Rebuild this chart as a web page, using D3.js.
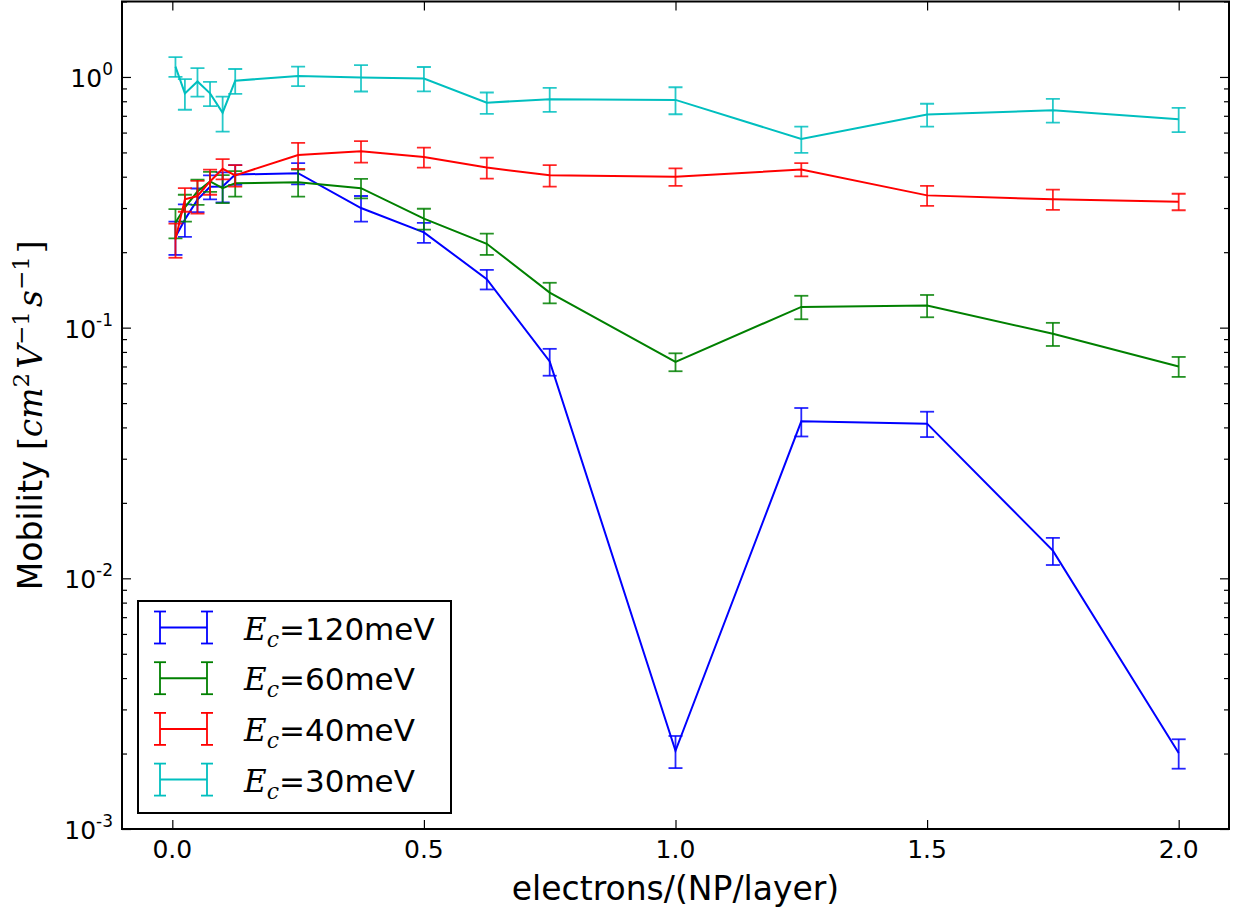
<!DOCTYPE html>
<html>
<head>
<meta charset="utf-8">
<script src="https://cdn.jsdelivr.net/npm/d3@7"></script>
<style>
  html, body { margin: 0; padding: 0; background: #fff; }
  svg { display: block; }
</style>
</head>
<body>
<svg id="chart" width="1233" height="911"></svg>
<script>
// ---------- data ----------
const xValues = [0.00625, 0.025, 0.05, 0.075, 0.1, 0.125, 0.25, 0.375, 0.5, 0.625, 0.75, 1.0, 1.25, 1.5, 1.75, 2.0];

const seriesNames = ["120meV", "60meV", "40meV", "30meV"];
const seriesColors = ["#0000ff", "#008000", "#ff0000", "#00bfbf"];

const mob120 = [0.23, 0.27, 0.324, 0.365, 0.366, 0.408, 0.413, 0.30, 0.24, 0.156, 0.0733, 0.00205, 0.0423, 0.0414, 0.0129, 0.00201];
const err120 = [0.035, 0.04, 0.035, 0.04, 0.05, 0.037, 0.04, 0.035, 0.022, 0.014, 0.009, 0.0003, 0.0055, 0.0048, 0.0016, 0.00027];

const mob60 = [0.262, 0.302, 0.349, 0.383, 0.36, 0.377, 0.38, 0.36, 0.272, 0.216, 0.138, 0.073, 0.121, 0.1225, 0.0945, 0.070];
const err60 = [0.035, 0.037, 0.04, 0.035, 0.046, 0.044, 0.047, 0.032, 0.026, 0.021, 0.013, 0.006, 0.013, 0.0125, 0.010, 0.0064];

const mob40 = [0.225, 0.325, 0.335, 0.383, 0.43, 0.405, 0.488, 0.505, 0.479, 0.435, 0.405, 0.40, 0.427, 0.337, 0.325, 0.318];
const err40 = [0.035, 0.035, 0.05, 0.044, 0.04, 0.04, 0.058, 0.05, 0.044, 0.042, 0.04, 0.032, 0.026, 0.031, 0.03, 0.024];

const mob30 = [1.10, 0.86, 0.96, 0.86, 0.72, 0.966, 1.01, 0.995, 0.986, 0.79, 0.815, 0.81, 0.566, 0.708, 0.737, 0.678];
const err30 = [0.10, 0.12, 0.125, 0.095, 0.115, 0.11, 0.09, 0.12, 0.11, 0.077, 0.09, 0.10, 0.068, 0.074, 0.08, 0.075];

const xTickValues = [0.0, 0.5, 1.0, 1.5, 2.0];
const xTickLabels = ["0.0", "0.5", "1.0", "1.5", "2.0"];
const yTickValues = [1e-3, 1e-2, 1e-1, 1];
const yTickExponents = ["-3", "-2", "-1", "0"];

// ---------- layout ----------
const svg = d3.select("#chart");
const L = 122, R = 1229, T = 1.5, B = 829;

const x = d3.scaleLinear().domain([-0.1, 2.1]).range([L, R]);
const y = d3.scaleLog().domain([1e-3, 2]).range([B, T]);

const series = [
  {name: seriesNames[0], color: seriesColors[0], v: mob120, e: err120},
  {name: seriesNames[1], color: seriesColors[1], v: mob60, e: err60},
  {name: seriesNames[2], color: seriesColors[2], v: mob40, e: err40},
  {name: seriesNames[3], color: seriesColors[3], v: mob30, e: err30}
];

const plot = svg.append("g");
const clipId = "plotclip";
svg.append("clipPath").attr("id", clipId).append("rect")
  .attr("x", L).attr("y", T).attr("width", R - L).attr("height", B - T);
plot.attr("clip-path", `url(#${clipId})`);

const line = d3.line().x(d => x(d[0])).y(d => y(d[1]));
const cap = 7;

series.forEach(s => {
  const g = plot.append("g");
  const pts = xValues.map((xv, i) => [xv, s.v[i], s.e[i]]);
  g.append("path").datum(pts).attr("d", line)
    .attr("fill", "none").attr("stroke", s.color).attr("stroke-width", 2)
    .attr("stroke-linejoin", "miter");
  const eb = g.selectAll("g.eb").data(pts).enter().append("g")
    .attr("stroke", s.color).attr("stroke-width", 1.8).attr("stroke-opacity", 0.85);
  eb.append("line").attr("x1", d => x(d[0])).attr("x2", d => x(d[0]))
    .attr("y1", d => y(d[1] + d[2])).attr("y2", d => y(d[1] - d[2]));
  eb.append("line").attr("x1", d => x(d[0]) - cap).attr("x2", d => x(d[0]) + cap)
    .attr("y1", d => y(d[1] + d[2])).attr("y2", d => y(d[1] + d[2]));
  eb.append("line").attr("x1", d => x(d[0]) - cap).attr("x2", d => x(d[0]) + cap)
    .attr("y1", d => y(d[1] - d[2])).attr("y2", d => y(d[1] - d[2]));
});

// ---------- axes (inward ticks on all four sides) ----------
const minorY = [];
for (let k = -3; k <= 0; k++) for (let m = 2; m <= 9; m++) {
  const v = m * Math.pow(10, k);
  if (v <= 2) minorY.push(v);
}
function styleAxis(g) {
  g.select(".domain").remove();
  g.selectAll("line").attr("stroke", "#000").attr("stroke-width", 1.2);
  g.selectAll("text").remove();
}
svg.append("g").attr("transform", `translate(${L},0)`)
  .call(d3.axisLeft(y).tickValues(yTickValues).tickSize(-9).tickFormat("")).call(styleAxis);
svg.append("g").attr("transform", `translate(${L},0)`)
  .call(d3.axisLeft(y).tickValues(minorY).tickSize(-5).tickFormat("")).call(styleAxis);
svg.append("g").attr("transform", `translate(${R},0)`)
  .call(d3.axisRight(y).tickValues(yTickValues).tickSize(-9).tickFormat("")).call(styleAxis);
svg.append("g").attr("transform", `translate(${R},0)`)
  .call(d3.axisRight(y).tickValues(minorY).tickSize(-5).tickFormat("")).call(styleAxis);
svg.append("g").attr("transform", `translate(0,${B})`)
  .call(d3.axisBottom(x).tickValues(xTickValues).tickSize(-9).tickFormat("")).call(styleAxis);
svg.append("g").attr("transform", `translate(0,${T})`)
  .call(d3.axisTop(x).tickValues(xTickValues).tickSize(-9).tickFormat("")).call(styleAxis);

// frame
svg.append("rect").attr("x", L).attr("y", T).attr("width", R - L).attr("height", B - T)
  .attr("fill", "none").attr("stroke", "#000").attr("stroke-width", 2);

// tick labels
const sans = "'DejaVu Sans', sans-serif";
svg.append("g").selectAll("text").data(xTickValues).enter().append("text")
  .attr("x", d => x(d)).attr("y", B + 29)
  .attr("text-anchor", "middle").attr("font-family", sans).attr("font-size", 25)
  .text((d, i) => xTickLabels[i]);

const yl = svg.append("g").selectAll("text").data(yTickValues).enter().append("text")
  .attr("x", L - 9).attr("y", d => y(d) + 10)
  .attr("text-anchor", "end").attr("font-family", sans).attr("font-size", 25);
yl.append("tspan").text("10");
yl.append("tspan").attr("dy", -12).attr("font-size", 17).text((d, i) => yTickExponents[i]);

// axis labels
svg.append("text").attr("x", (L + R) / 2).attr("y", 900)
  .attr("text-anchor", "middle").attr("font-family", sans).attr("font-size", 33)
  .text("electrons/(NP/layer)");

const serif = "'DejaVu Serif', serif";
const ylab = svg.append("text")
  .attr("transform", `translate(42,${(T + B) / 2}) rotate(-90)`)
  .attr("text-anchor", "middle").attr("font-family", sans).attr("font-size", 33);
ylab.append("tspan").text("Mobility ");
ylab.append("tspan").attr("font-family", serif).text("[");
ylab.append("tspan").attr("font-family", serif).attr("font-style", "italic").text("cm");
ylab.append("tspan").attr("font-family", serif).attr("font-size", 23).attr("dy", -13).text("2");
ylab.append("tspan").attr("font-family", serif).attr("font-style", "italic").attr("dy", 13).attr("dx", 4).text("V");
ylab.append("tspan").attr("font-family", serif).attr("font-size", 23).attr("dy", -13).text("\u22121");
ylab.append("tspan").attr("font-family", serif).attr("font-style", "italic").attr("dy", 13).attr("dx", 4).text("s");
ylab.append("tspan").attr("font-family", serif).attr("font-size", 23).attr("dy", -13).text("\u22121");
ylab.append("tspan").attr("font-family", serif).attr("dy", 13).attr("dx", 3).text("]");

// ---------- legend ----------
const lg = svg.append("g");
lg.append("rect").attr("x", 138).attr("y", 601).attr("width", 313).attr("height", 212)
  .attr("fill", "#fff").attr("stroke", "#000").attr("stroke-width", 2);
const rows = lg.selectAll("g.row").data(series).enter().append("g")
  .attr("transform", (d, i) => `translate(0,${627.5 + i * 50.7})`);
rows.append("line").attr("x1", 160).attr("x2", 207).attr("y1", 0).attr("y2", 0)
  .attr("stroke", d => d.color).attr("stroke-width", 2);
rows.append("line").attr("x1", 160).attr("x2", 160).attr("y1", -16).attr("y2", 16)
  .attr("stroke", d => d.color).attr("stroke-width", 1.8);
rows.append("line").attr("x1", 207).attr("x2", 207).attr("y1", -16).attr("y2", 16)
  .attr("stroke", d => d.color).attr("stroke-width", 1.8);
rows.append("line").attr("x1", 154).attr("x2", 166).attr("y1", -16).attr("y2", -16)
  .attr("stroke", d => d.color).attr("stroke-width", 1.8);
rows.append("line").attr("x1", 154).attr("x2", 166).attr("y1", 16).attr("y2", 16)
  .attr("stroke", d => d.color).attr("stroke-width", 1.8);
rows.append("line").attr("x1", 201).attr("x2", 213).attr("y1", -16).attr("y2", -16)
  .attr("stroke", d => d.color).attr("stroke-width", 1.8);
rows.append("line").attr("x1", 201).attr("x2", 213).attr("y1", 16).attr("y2", 16)
  .attr("stroke", d => d.color).attr("stroke-width", 1.8);
const lt = rows.append("text").attr("x", 244).attr("y", 12)
  .attr("font-family", sans).attr("font-size", 31);
lt.append("tspan").attr("font-family", serif).attr("font-style", "italic").text("E");
lt.append("tspan").attr("font-family", serif).attr("font-style", "italic").attr("font-size", 22).attr("dy", 7).text("c");
lt.append("tspan").attr("dy", -7).text(d => "=" + d.name);
</script>
</body>
</html>
